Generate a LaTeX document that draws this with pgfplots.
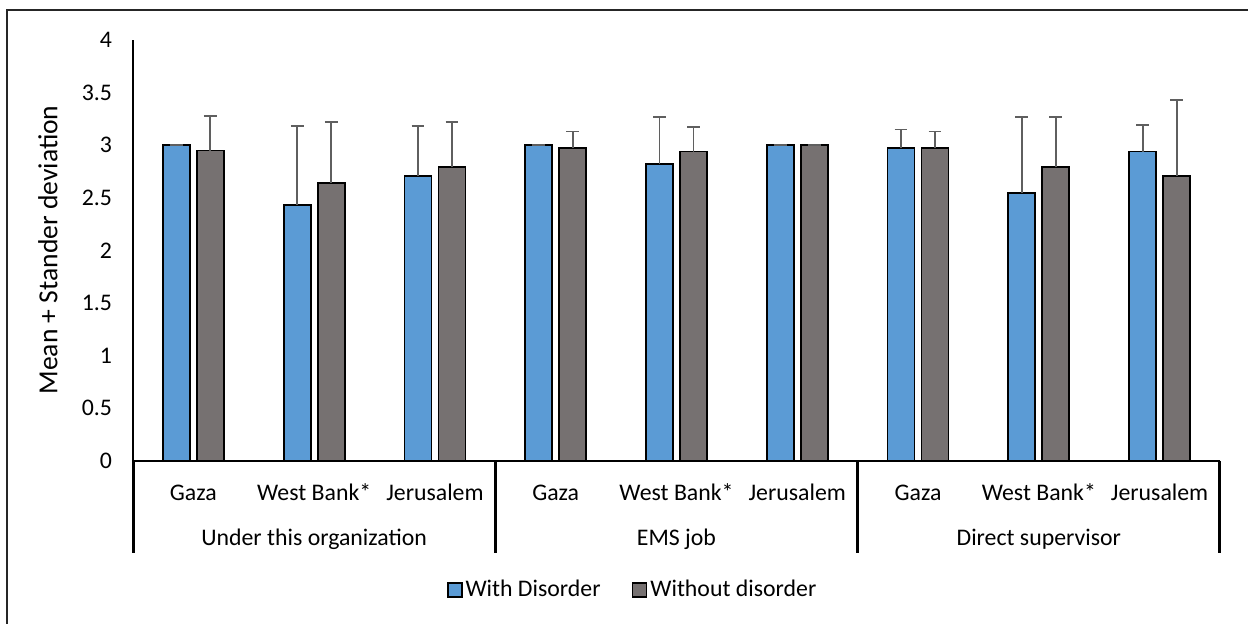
\documentclass[border=0pt]{standalone}
\usepackage{fontspec}
\setmainfont{Carlito}
\usepackage{pgfplots}
\usepackage{pgfplotstable}
\pgfplotsset{compat=1.18}

\definecolor{withblue}{RGB}{91,155,213}
\definecolor{withoutgray}{RGB}{118,113,113}
\definecolor{errgray}{RGB}{95,95,95}

% mean and standard deviation per location, three blocks of three
\pgfplotstableread{
idx with  errw  without errwo
0   3.00  0.00  2.95    0.33
1   2.43  0.75  2.64    0.58
2   2.71  0.47  2.79    0.43
3   3.00  0.00  2.97    0.16
4   2.82  0.45  2.94    0.23
5   3.00  0.00  3.00    0.00
6   2.97  0.18  2.97    0.16
7   2.55  0.72  2.79    0.48
8   2.94  0.25  2.71    0.72
}\datatable

\begin{document}
\begin{tikzpicture}[font=\fontsize{11.9}{14.3}\selectfont]
\useasboundingbox (0,0) rectangle (624pt,312pt);
% chart frame
\draw[line width=0.65pt, black!85] (3.5pt,0) -- (3.5pt,307pt) -- (624pt,307pt);

\begin{axis}[
  at={(66.5pt,81.5pt)}, anchor=south west,
  scale only axis,
  width=543.5pt, height=210.5pt,
  xmin=-0.5, xmax=8.5,
  ymin=0, ymax=4,
  ytick={0,0.5,...,4},
  xtick={0,...,8},
  xticklabels={Gaza,West Bank*,Jerusalem,Gaza,West Bank*,Jerusalem,Gaza,West Bank*,Jerusalem},
  xticklabel style={anchor=base, yshift=-20pt},
  yticklabel style={xshift=-7pt},
  /pgf/number format/assume math mode=true,
  /pgf/number format/.cd, fixed, precision=1, /pgfplots/.cd,
  major tick length=0pt,
  axis lines*=left,
  axis line style={-, line width=1.4pt, black},
  clip=false,
  ybar, bar width=13.5pt, ybar=3.5pt,
  legend style={at={(0.46,-0.306)}, anchor=center, draw=none,
    legend columns=2, fill=none,
    /tikz/every even column/.append style={column sep=14pt},
    nodes={inner sep=1.5pt}},
  legend image code/.code={
    \draw[#1, line width=0.9pt] (0pt,-3.5pt) rectangle (7pt,3.5pt);},
]
\addplot[fill=withblue, draw=black, line width=0.9pt,
  error bars/.cd, y dir=plus, y explicit, error mark=|,
  error bar style={line width=0.9pt, errgray},
  error mark options={line width=0.9pt, errgray, mark size=3.2pt}]
  table[x=idx, y=with, y error=errw] {\datatable};
\addlegendentry{With Disorder}
\addplot[fill=withoutgray, draw=black, line width=0.9pt,
  error bars/.cd, y dir=plus, y explicit, error mark=|,
  error bar style={line width=0.9pt, errgray},
  error mark options={line width=0.9pt, errgray, mark size=3.2pt}]
  table[x=idx, y=without, y error=errwo] {\datatable};
\addlegendentry{Without disorder}

% group separators and group names
\pgfplotsinvokeforeach{-0.5,2.5,5.5,8.5}{
  \draw[line width=1.5pt, black] (axis cs:#1,0) -- ++(0pt,-46pt);
}
\path (axis cs:1,0) ++(0pt,-42.5pt) node[anchor=base] {Under this organization};
\path (axis cs:4,0) ++(0pt,-42.5pt) node[anchor=base] {EMS job};
\path (axis cs:7,0) ++(0pt,-42.5pt) node[anchor=base] {Direct supervisor};
\end{axis}

\node[rotate=90, font=\fontsize{13.8}{16.5}\selectfont] at (24pt,187pt) {Mean + Stander deviation};
\end{tikzpicture}
\end{document}
